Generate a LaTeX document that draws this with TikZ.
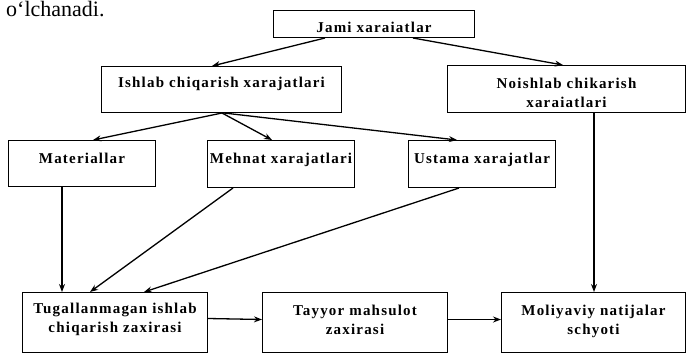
\documentclass[tikz,border=0pt]{standalone}
\usepackage{fontspec}
\setmainfont{Liberation Serif}
\newfontfamily\blokfont[LetterSpace=8]{Liberation Serif}
\usepackage{tikz}
\usetikzlibrary{arrows.meta}
\tikzset{blok/.style={draw, line width=1pt, anchor=north west, inner xsep=1pt, inner ysep=0pt, align=center, font=\blokfont\bfseries\fontsize{15}{18.5}\selectfont}}
\tikzset{strelka/.style={->, line width=1.3pt}}

\begin{document}
\begin{tikzpicture}[x=1pt, y=-1pt, >={Stealth[length=8pt,width=6pt]}]
\useasboundingbox (0,0) rectangle (686,354);
\node[anchor=base west, inner sep=0pt, font=\fontsize{22}{26}\selectfont] (oldingi) at (6,16) {o‘lchanadi.};
% yuqori qator
\node[blok, text width=199pt, text height=22pt, text depth=5pt] (jami) at (273,10) {Jami xaraiatlar};
\node[blok, text width=238pt, text height=21pt, text depth=25pt] (ishlab) at (101,66) {Ishlab chiqarish xarajatlari};
\node[blok, text width=236pt, text height=23pt, text depth=24pt] (noishlab) at (447,65) {Noishlab chikarish\\xaraiatlari};
% o'rta qator
\node[blok, text width=145pt, text height=23pt, text depth=23pt] (mat) at (8,140) {Materiallar};
\node[blok, text width=145pt, text height=23pt, text depth=24pt] (mehnat) at (207,140) {Mehnat~xarajatlari};
\node[blok, text width=145pt, text height=23pt, text depth=24pt] (ustama) at (408,140) {Ustama~xarajatlar};
% pastki qator
\node[blok, text width=183pt, text height=21pt, text depth=39pt] (tugal) at (22,292) {Tugallanmagan ishlab\\chiqarish zaxirasi};
\node[blok, text width=183pt, text height=23pt, text depth=37pt] (tayyor) at (262,292) {Tayyor mahsulot\\zaxirasi};
\node[blok, text width=182pt, text height=23pt, text depth=37pt] (moliya) at (501,292) {Moliyaviy natijalar\\schyoti};
% strelkalar
\draw[strelka] ([xshift=52pt]jami.south west) -- ([xshift=111pt]ishlab.north west);
\draw[strelka] ([xshift=140pt]jami.south west) -- ([xshift=116pt]noishlab.north west);
\draw[strelka] ([xshift=121pt]ishlab.south west) -- ([xshift=85pt]mat.north west);
\draw[strelka] ([xshift=121pt]ishlab.south west) -- ([xshift=65pt]mehnat.north west);
\draw[strelka] ([xshift=123pt]ishlab.south west) -- ([xshift=49pt]ustama.north west);
\draw[strelka] ([xshift=54pt]mat.south west) -- ([xshift=40pt]tugal.north west);
\draw[strelka] ([xshift=26pt]mehnat.south west) -- ([xshift=68pt]tugal.north west);
\draw[strelka] ([xshift=51pt]ustama.south west) -- ([xshift=122pt]tugal.north west);
\draw[strelka] ([xshift=147pt]noishlab.south west) -- ([xshift=93pt]moliya.north west);
\draw[strelka] ([yshift=4pt]tugal.east) -- ([yshift=3pt]tayyor.west);
\draw[strelka] ([yshift=3pt]tayyor.east) -- ([yshift=3pt]moliya.west);
\end{tikzpicture}
\end{document}
